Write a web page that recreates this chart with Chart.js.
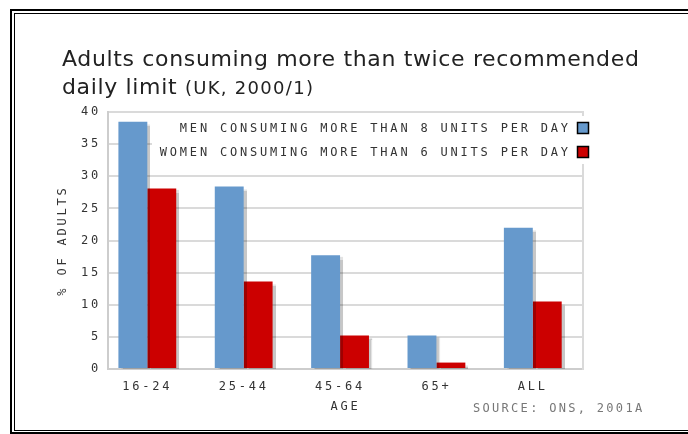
<!DOCTYPE html>
<html>
<head>
<meta charset="utf-8">
<title>Adults consuming more than twice recommended daily limit</title>
<script src="https://cdn.jsdelivr.net/npm/chart.js@4/dist/chart.umd.min.js"></script>
<style>
  html, body { margin: 0; padding: 0; background: #fff; overflow: hidden; }
  #wrap { position: relative; width: 688px; height: 434px; overflow: hidden; background: #fff; }
  /* double black frame, running off the right edge */
  #frameOuter { position: absolute; left: 10px; top: 9px; right: 0; height: 421px; border: 2px solid #000; border-right: none; }
  #frameInner { position: absolute; left: 14px; top: 13px; right: 0; height: 416px; border: 1px solid #000; border-right: none; }
  #chart { position: absolute; left: 0; top: 0; }
  #title { position: absolute; left: 62px; top: 45px; font-family: "DejaVu Sans", Verdana, sans-serif; font-size: 22px; letter-spacing: 0.65px; line-height: 28px; color: #222; white-space: nowrap; }
  #title small { font-size: 18px; letter-spacing: 1.3px; }
  #source { position: absolute; left: 473px; top: 402px; font-family: "DejaVu Sans Mono", monospace; font-size: 12px; line-height: 13px; letter-spacing: 2.3px; color: #777; white-space: nowrap; }
</style>
</head>
<body>
<div id="wrap">
  <div id="frameOuter"></div>
  <div id="frameInner"></div>
  <canvas id="chart" width="688" height="434"></canvas>
  <div id="title">Adults consuming more than twice recommended<br>daily limit <small>(UK, 2000/1)</small></div>
  <div id="source">SOURCE: ONS, 2001A</div>
</div>
<script>
// Age groups along the x axis
const categories = ['16-24', '25-44', '45-64', '65+', 'ALL'];
// Percentage of adults in each group
const menValues = [38.5, 28.4, 17.7, 5.2, 22.0];
const womenValues = [28.1, 13.6, 5.2, 1.0, 10.5];
const seriesLabels = ['MEN CONSUMING MORE THAN 8 UNITS PER DAY', 'WOMEN CONSUMING MORE THAN 6 UNITS PER DAY'];
const seriesColors = ['#6699cc', '#cc0000'];
const yMin = 0, yMax = 40, yStep = 5;

const PIXEL_FONT = '"DejaVu Sans Mono", monospace';
const SPACING = 2.8;

const toPoints = vals => vals.map((v, i) => ({ x: i, y: v }));

// Wide letter spacing for every canvas label
const spacingPlugin = {
  id: 'spacing',
  beforeDraw(chart) { chart.ctx.letterSpacing = SPACING + 'px'; }
};

// Boxed legend inside the top of the plot, swatches on the right,
// then a soft drop shadow on the bars
const boxLegendPlugin = {
  id: 'boxLegend',
  beforeDatasetsDraw(chart) {
    const ctx = chart.ctx;
    const area = chart.chartArea;
    ctx.save();
    ctx.fillStyle = '#fff';
    ctx.fillRect(area.left + 44, area.top + 4, area.right - area.left - 35, 48);
    ctx.font = '12px ' + PIXEL_FONT;
    ctx.textAlign = 'right';
    ctx.textBaseline = 'middle';
    chart.data.datasets.forEach((ds, i) => {
      const cy = area.top + 16 + i * 24;
      ctx.fillStyle = '#333';
      ctx.fillText(ds.label, area.right - 15 + SPACING, cy + 0.5);
      ctx.fillStyle = ds.backgroundColor;
      ctx.fillRect(area.right - 5.5, cy - 5.5, 11, 11);
      ctx.strokeStyle = '#000';
      ctx.lineWidth = 1.5;
      ctx.strokeRect(area.right - 5.5, cy - 5.5, 11, 11);
    });
    ctx.restore();
    ctx.save();
    ctx.shadowColor = 'rgba(0,0,0,0.22)';
    ctx.shadowOffsetX = 3;
    ctx.shadowOffsetY = 2;
    ctx.shadowBlur = 1;
  },
  afterDatasetsDraw(chart) {
    chart.ctx.restore();
  }
};

new Chart(document.getElementById('chart'), {
  type: 'bar',
  data: {
    datasets: [
      { label: seriesLabels[0], data: toPoints(menValues), backgroundColor: seriesColors[0] },
      { label: seriesLabels[1], data: toPoints(womenValues), backgroundColor: seriesColors[1] }
    ]
  },
  options: {
    responsive: false,
    animation: false,
    devicePixelRatio: 1,
    layout: { padding: { left: 50, right: 105, top: 112, bottom: 0 } },
    datasets: { bar: { categoryPercentage: 0.6, barPercentage: 1.0, borderWidth: 0 } },
    plugins: { legend: { display: false }, tooltip: { enabled: false }, title: { display: false } },
    scales: {
      x: {
        type: 'linear',
        offset: false,
        min: -0.408,
        max: 4.521,
        grid: { display: false, offset: false },
        border: { display: true, color: '#cdcdcd', width: 2 },
        ticks: {
          stepSize: 1,
          includeBounds: false,
          autoSkip: false,
          maxRotation: 0,
          padding: 3,
          color: '#333',
          font: { family: PIXEL_FONT, size: 12 },
          callback: v => (Number.isInteger(v) && categories[v] !== undefined) ? categories[v] : ''
        },
        title: {
          display: true,
          text: 'AGE',
          color: '#333',
          font: { family: PIXEL_FONT, size: 12 },
          padding: { top: 0, bottom: 20 }
        },
        afterFit(scale) { scale.height = 65; }
      },
      y: {
        min: yMin,
        max: yMax,
        grid: { color: '#dadada', lineWidth: 2, drawTicks: false },
        border: { display: true, color: '#cdcdcd', width: 2 },
        ticks: {
          stepSize: yStep,
          padding: 7,
          color: '#333',
          font: { family: PIXEL_FONT, size: 12 }
        },
        title: {
          display: true,
          text: '% OF ADULTS',
          color: '#333',
          font: { family: PIXEL_FONT, size: 12 },
          padding: { top: 6, bottom: 0 }
        },
        afterFit(scale) { scale.width = 58; }
      },
      yRight: {
        position: 'right',
        min: yMin,
        max: yMax,
        grid: { display: false, drawTicks: false },
        border: { display: true, color: '#dadada', width: 2 },
        ticks: { display: false },
        afterFit(scale) { scale.width = 0; }
      }
    }
  },
  plugins: [spacingPlugin, boxLegendPlugin]
});
</script>
</body>
</html>
